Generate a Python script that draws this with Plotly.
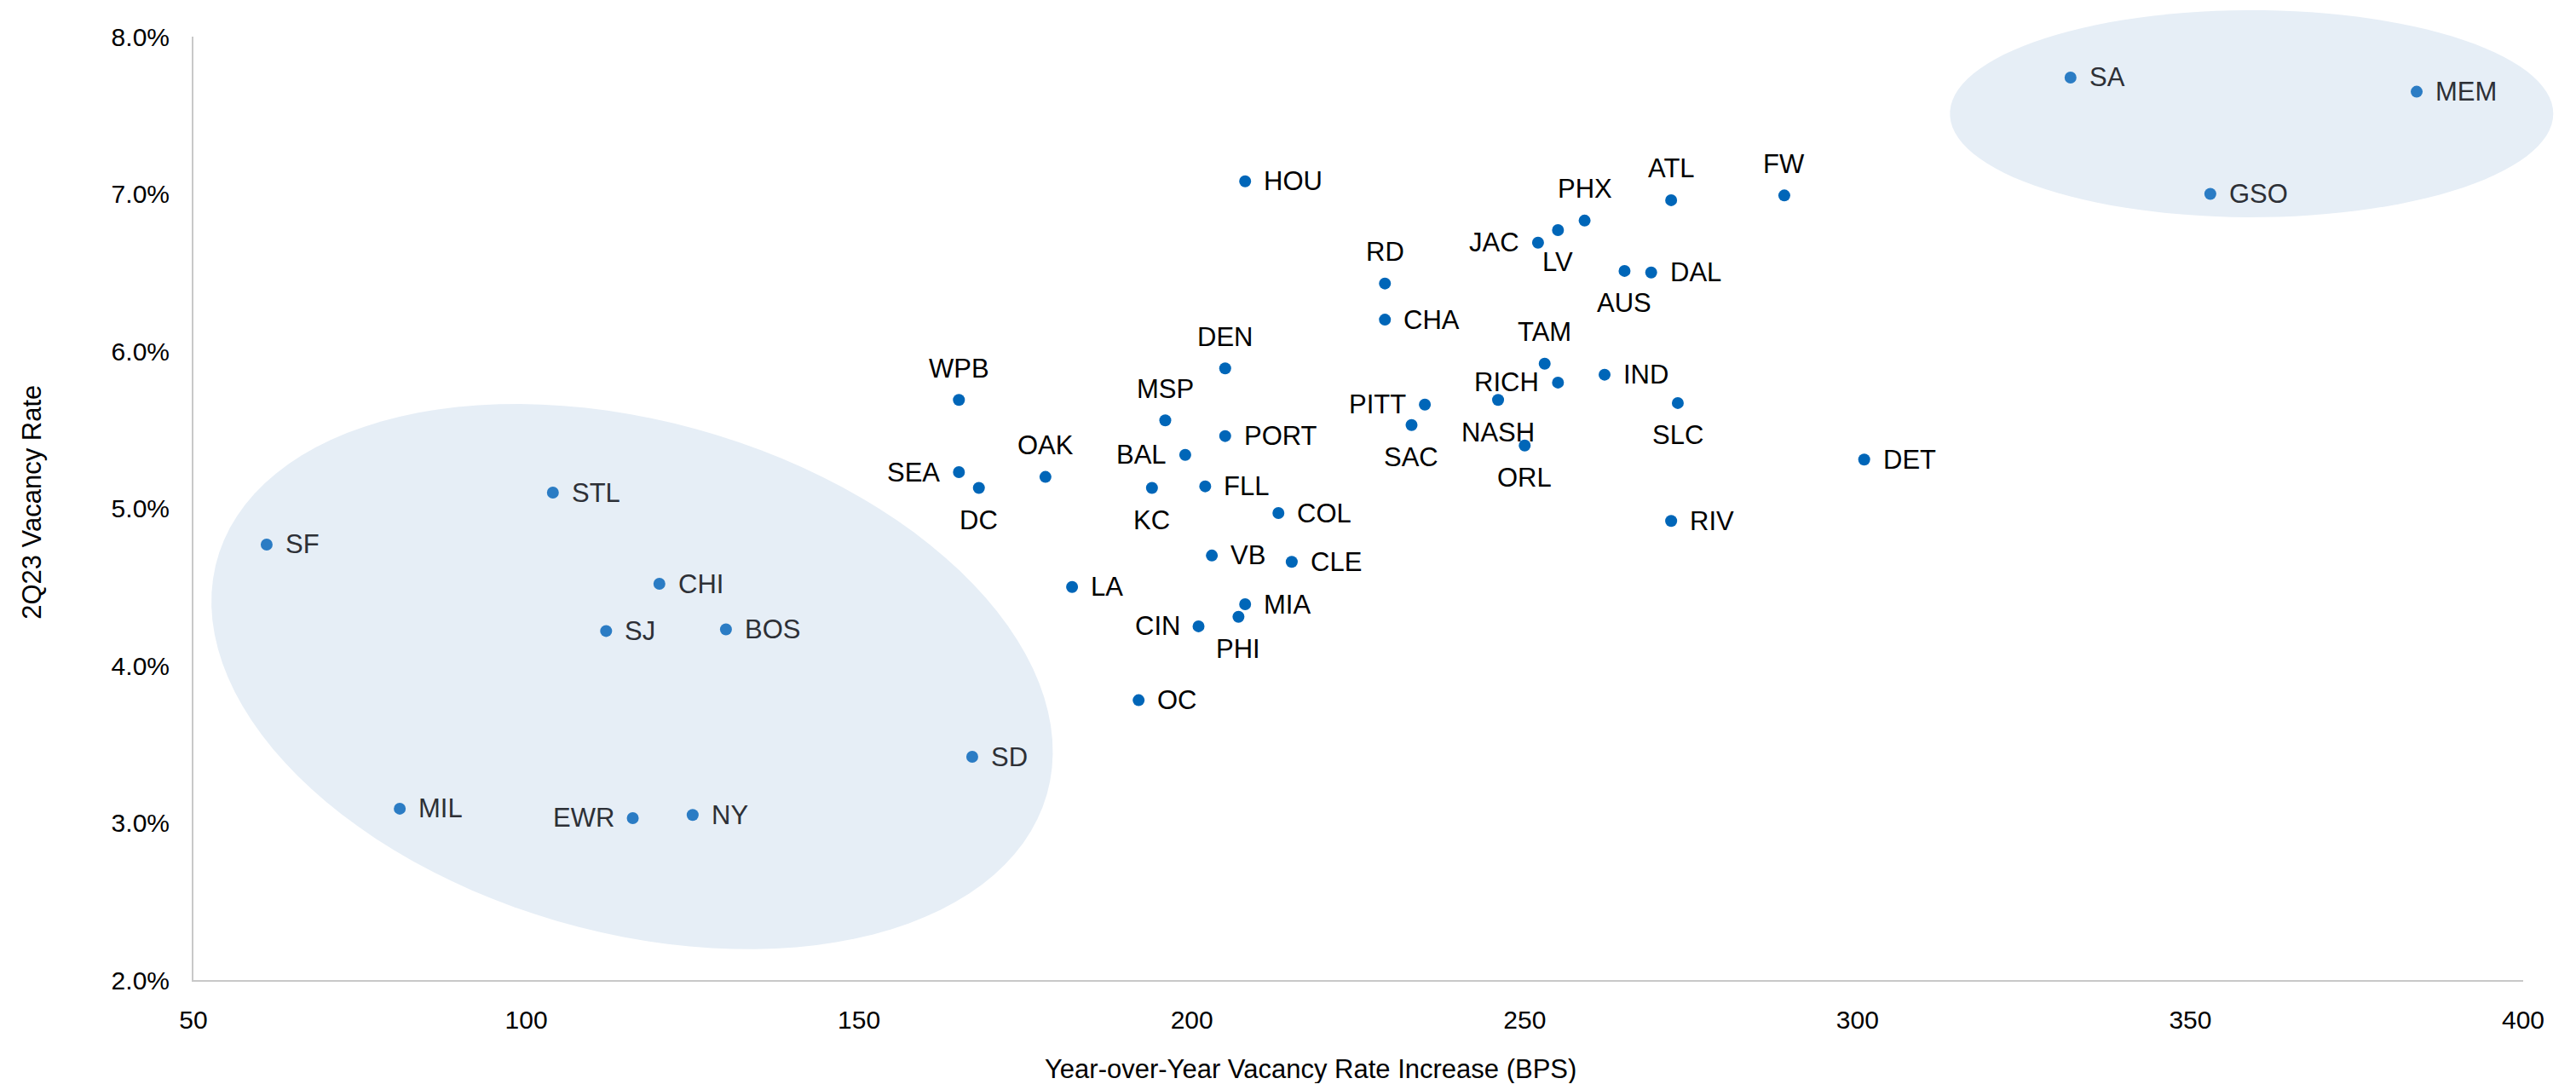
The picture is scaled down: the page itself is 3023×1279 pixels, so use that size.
import numpy as np
import plotly.graph_objects as go

# markets, YoY vacancy increase (bps) and 2Q23 vacancy rate (%)
markets = ["SF", "STL", "CHI", "SJ", "BOS", "MIL", "EWR", "NY", "SD",
           "SA", "MEM", "GSO",
           "WPB", "SEA", "DC", "OAK", "LA", "OC", "HOU", "DEN", "MSP", "PORT",
           "BAL", "KC", "FLL", "COL", "VB", "CLE", "MIA", "PHI", "CIN", "RD",
           "CHA", "JAC", "LV", "PHX", "ATL", "FW", "AUS", "DAL", "TAM", "RICH",
           "IND", "SLC", "PITT", "SAC", "NASH", "ORL", "RIV", "DET"]
bps = [61, 104, 120, 112, 130, 81, 116, 125, 167,
       332, 384, 353,
       165, 165, 168, 178, 182, 192, 208, 205, 196, 205,
       199, 194, 202, 213, 203, 215, 208, 207, 201, 229,
       229, 252, 255, 259, 272, 289, 265, 269, 253, 255,
       262, 273, 235, 233, 246, 250, 272, 301]
vacancy = [4.77, 5.10, 4.52, 4.22, 4.23, 3.09, 3.03, 3.05, 3.42,
           7.74, 7.65, 7.00,
           5.69, 5.23, 5.13, 5.20, 4.50, 3.78, 7.08, 5.89, 5.56, 5.46,
           5.34, 5.13, 5.14, 4.97, 4.70, 4.66, 4.39, 4.31, 4.25, 6.43,
           6.20, 6.69, 6.77, 6.83, 6.96, 6.99, 6.51, 6.50, 5.92, 5.80,
           5.85, 5.67, 5.66, 5.53, 5.69, 5.40, 4.92, 5.31]
circled = {"SF", "STL", "CHI", "SJ", "BOS", "MIL", "EWR", "NY", "SD", "SA", "MEM", "GSO"}

# label side for each market (default right)
label_side = {"EWR": "l", "WPB": "t", "SEA": "l", "DC": "b", "OAK": "t", "DEN": "t",
              "MSP": "t", "BAL": "l", "KC": "b", "PHI": "b", "CIN": "l", "RD": "t",
              "JAC": "l", "LV": "b", "PHX": "t", "ATL": "t", "FW": "t", "AUS": "b",
              "TAM": "t", "RICH": "l", "SLC": "b", "PITT": "l", "SAC": "b",
              "NASH": "b", "ORL": "b"}

W, H = 3007, 1263          # page adds 8px body margin around the div
L, R, T, B = 219, 54, 35, 121
PW, PH = W - L - R, H - T - B
X0, X1, Y0, Y1 = 50, 400, 2, 8

DOT_IN, DOT_OUT = "#2b7cc4", "#0066b8"
TXT_IN, TXT_OUT = "#2d3036", "#000000"
FILL = "#e6eef6"
FONT = "Liberation Sans, Arial, sans-serif"


def ellipse_path(cx, cy, a_px, b_px, ang_deg, n=120):
    # ellipse given in data centre + pixel semi-axes, returned in paper coords
    t = np.linspace(0, 2 * np.pi, n)
    th = np.radians(ang_deg)
    dx = a_px * np.cos(t) * np.cos(th) - b_px * np.sin(t) * np.sin(th)
    dy = a_px * np.cos(t) * np.sin(th) + b_px * np.sin(t) * np.cos(th)
    px = (cx - X0) / (X1 - X0) + dx / PW
    py = (cy - Y0) / (Y1 - Y0) - dy / PH
    pts = [f"{x:.5f},{y:.5f}" for x, y in zip(px, py)]
    return "M" + " L".join(pts) + " Z"


fig = go.Figure()

fig.add_shape(type="path", xref="paper", yref="paper", layer="below",
              path=ellipse_path(115.9, 3.93, 506, 300, 15.8),
              fillcolor=FILL, line=dict(width=0))
fig.add_shape(type="path", xref="paper", yref="paper", layer="below",
              path=ellipse_path(359.2, 7.51, 354, 121.5, 0),
              fillcolor=FILL, line=dict(width=0))

colors = [DOT_IN if m in circled else DOT_OUT for m in markets]
fig.add_trace(go.Scatter(x=bps, y=vacancy, mode="markers",
                         marker=dict(size=14, color=colors, line=dict(width=0)),
                         text=markets, hoverinfo="text+x+y", showlegend=False))

for m, x, y in zip(markets, bps, vacancy):
    side = label_side.get(m, "r")
    kw = dict(x=x, y=y, text=m, showarrow=False,
              font=dict(size=31, color=TXT_IN if m in circled else TXT_OUT, family=FONT))
    if side == "r":
        kw.update(xanchor="left", yanchor="middle", xshift=20)
    elif side == "l":
        kw.update(xanchor="right", yanchor="middle", xshift=-20)
    elif side == "t":
        kw.update(xanchor="center", yanchor="middle", yshift=37)
    else:
        kw.update(xanchor="center", yanchor="middle", yshift=-38)
    fig.add_annotation(**kw)

# axis titles (x title sits left of plot centre in the original)
fig.add_annotation(text="Year-over-Year Vacancy Rate Increase (BPS)", xref="paper", yref="paper",
                   x=0.4795, y=-0.0942, xanchor="center", yanchor="middle", showarrow=False,
                   font=dict(size=31, color="#000000", family=FONT))
fig.add_annotation(text="2Q23 Vacancy Rate", xref="paper", yref="paper", textangle=-90,
                   x=-0.0693, y=0.5065, xanchor="center", yanchor="middle", showarrow=False,
                   font=dict(size=31, color="#000000", family=FONT))

fig.update_layout(
    width=W, height=H,
    margin=dict(l=L, r=R, t=T, b=B),
    plot_bgcolor="white", paper_bgcolor="white",
    font=dict(family=FONT, size=30, color="#000000"),
    showlegend=False,
)
fig.update_xaxes(range=[X0, X1], dtick=50, tick0=50, showgrid=False, zeroline=False,
                 showline=True, linecolor="#c8c8c8", linewidth=2, ticks="",
                 ticklabelstandoff=19)
fig.update_yaxes(range=[Y0, Y1], dtick=1, tick0=2, tickformat=".1f", ticksuffix="%",
                 showgrid=False, zeroline=False, showline=True, linecolor="#c8c8c8",
                 linewidth=2, ticks="", ticklabelstandoff=20)

fig.write_html("out.html")
